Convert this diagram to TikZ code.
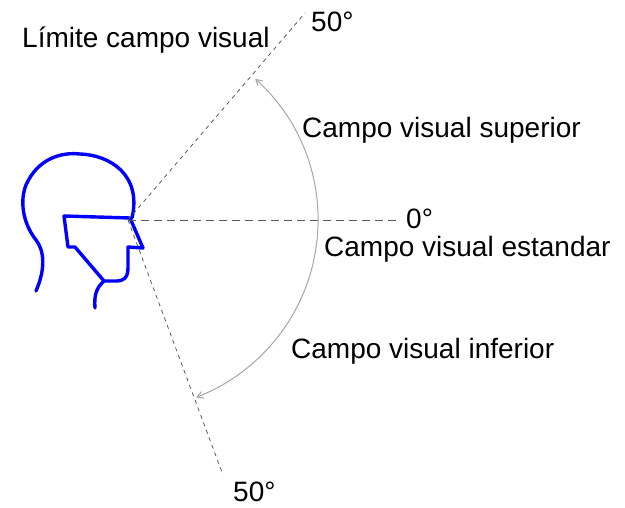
\documentclass[tikz,border=0pt]{standalone}
\usepackage{fontspec}
\setmainfont{Liberation Sans}
\usetikzlibrary{arrows.meta}
\begin{document}
\begin{tikzpicture}[x=1pt,y=-1pt,
  head/.style={draw=blue,line width=3.4pt,line join=round,line cap=round},
  sightline/.style={draw=black!65,line width=0.8pt,dash pattern=on 4pt off 4pt},
  axisline/.style={draw=black!65,line width=0.8pt,dash pattern=on 8pt off 5pt},
  fieldarc/.style={draw=black!35,line width=1pt,{Straight Barb[length=6pt,width=7pt]}-{Straight Barb[length=6pt,width=7pt]}},
  lbl/.style={anchor=west,inner sep=0pt,font=\fontsize{28}{33}\selectfont}]
\useasboundingbox (0,0) rectangle (625,508);

% eye point and ends of the sight lines
\coordinate (eye) at (128,220);
\coordinate (topend) at (305,13);
\coordinate (midend) at (400,220);
\coordinate (lowend) at (223,475);

% head outline
\draw[head] (36,291) .. controls (46,268) and (44,250) .. (36,240)
  .. controls (22,222) and (20,200) .. (26,185)
  .. controls (38,158) and (62,152) .. (80,154)
  .. controls (110,155) and (142,175) .. (132,218);
\draw[head] (64,216) -- (130,218) -- (143,248) -- (128,247) -- (128,268)
  .. controls (128,279) and (122,281) .. (117,281) -- (104,281)
  -- (75,247) -- (68,247) -- cycle;
\draw[head] (104,281) .. controls (96,288) and (94,296) .. (95,308);

% sight lines
\draw[sightline] (eye) -- (topend);
\draw[axisline] (eye) -- (midend);
\draw[sightline] (eye) -- (lowend);

% field of view arc (y axis points down, so negative angles lie above)
\draw[fieldarc] (eye) ++(-48:190) arc[start angle=-48,end angle=69,radius=190];

% labels
\node[lbl] (limite) at (22,40) {Límite campo visual};
\node[lbl] (topdeg) at (311,22) {50°};
\node[lbl] (sup) at (302,130) {Campo visual superior};
\node[lbl] (zerodeg) at (406,219) {0°};
\node[lbl] (est) at (324,249) {Campo visual estandar};
\node[lbl] (inf) at (291,351) {Campo visual inferior};
\node[lbl] (lowdeg) at (233,492) {50°};
\end{tikzpicture}
\end{document}
